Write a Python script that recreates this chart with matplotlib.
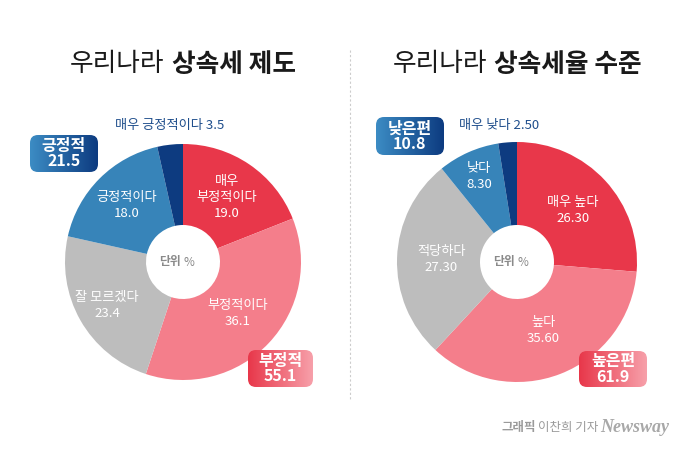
import numpy as np
import matplotlib
matplotlib.use('Agg')
import matplotlib.pyplot as plt
from matplotlib.patches import FancyBboxPatch

plt.rcParams['font.family'] = ['Noto Sans CJK KR', 'DejaVu Sans']

# 데이터
left_labels = ['매우\n부정적이다', '부정적이다', '잘 모르겠다', '긍정적이다', '매우 긍정적이다']
left_values = [19.0, 36.1, 23.4, 18.0, 3.5]
left_text = ['19.0', '36.1', '23.4', '18.0', '3.5']

right_labels = ['매우 높다', '높다', '적당하다', '낮다', '매우 낮다']
right_values = [26.30, 35.60, 27.30, 8.30, 2.50]
right_text = ['26.30', '35.60', '27.30', '8.30', '2.50']

left_groups = [('긍정적', '21.5'), ('부정적', '55.1')]
right_groups = [('낮은편', '10.8'), ('높은편', '61.9')]

colors = ['#e8374a', '#f47e8b', '#bdbdbd', '#3784b9', '#0d3b80']
H = 450

fig = plt.figure(figsize=(7, 4.5), dpi=100)
ax = fig.add_axes([0, 0, 1, 1])


def donut(cx, cy, r, values, labels, texts, ks):
    ax.pie(values, center=(cx, H - cy), radius=r, startangle=90,
           counterclock=False, colors=colors,
           wedgeprops=dict(width=r - 37, linewidth=0))
    cum = 0
    for i, v in enumerate(values):
        mid = (cum + v / 2) / sum(values)
        cum += v
        if i == len(values) - 1:
            continue
        th = 2 * np.pi * mid
        x = cx + r * ks[i] * np.sin(th)
        y = H - cy + r * ks[i] * np.cos(th)
        ax.text(x, y, labels[i] + '\n' + texts[i], ha='center', va='center',
                color='white', fontsize=9.5, linespacing=1.3)
    ax.text(cx - 2, H - cy, '단위', ha='right', va='center', color='#8a8a8a',
            fontsize=8.5, fontweight='bold')
    ax.text(cx, H - cy, '%', ha='left', va='center', color='#8a8a8a', fontsize=8.5)


def box(x0, y0, x1, y1, c1, c2, t1, t2):
    w, h = x1 - x0, y1 - y0
    patch = FancyBboxPatch((x0, H - y1), w, h,
                           boxstyle='round,pad=0,rounding_size=8',
                           facecolor='none', edgecolor='none')
    ax.add_patch(patch)
    a = matplotlib.colors.to_rgb(c1)
    b = matplotlib.colors.to_rgb(c2)
    t = np.linspace(0, 1, 128)[None, :, None]
    grad = (1 - t) * np.array(a) + t * np.array(b)
    im = ax.imshow(grad, extent=[x0, x1, H - y1, H - y0], aspect='auto',
                   interpolation='bilinear', zorder=3)
    im.set_clip_path(patch)
    xc = (x0 + x1) / 2
    ax.text(xc, H - (y0 + h * 0.5), t1 + '\n' + t2, ha='center', va='center',
            color='white', fontsize=11.5, fontweight='bold', linespacing=0.95,
            zorder=4)


donut(183, 262, 118, left_values, left_labels, left_text, [0.66, 0.64, 0.74, 0.68])
donut(517, 262, 120, right_values, right_labels, right_text, [0.63, 0.61, 0.63, 0.78])

ax.text(115, H - 126, left_labels[4] + ' ' + left_text[4], ha='left', va='center',
        color='#1f4e8c', fontsize=9.5)
ax.text(459, H - 126, right_labels[4] + ' ' + right_text[4], ha='left', va='center',
        color='#1f4e8c', fontsize=9.5)

box(30, 135, 98, 172, '#3c8cc4', '#0d3b80', *left_groups[0])
box(248, 350, 313, 387, '#e8374a', '#f7a0aa', *left_groups[1])
box(376, 117, 444, 155, '#3c8cc4', '#0d3b80', *right_groups[0])
box(579, 351, 647, 387, '#e8374a', '#f7a0aa', *right_groups[1])

# 제목
ax.text(164, H - 64, '우리나라', ha='right', va='center', fontsize=18.5, color='#1a1a1a')
ax.text(172, H - 64, '상속세 제도', ha='left', va='center', fontsize=18.5,
        fontweight='bold', color='#1a1a1a')
ax.text(487, H - 64, '우리나라', ha='right', va='center', fontsize=18.5, color='#1a1a1a')
ax.text(494, H - 64, '상속세율 수준', ha='left', va='center', fontsize=18.5,
        fontweight='bold', color='#1a1a1a')

# 구분선
ax.plot([350, 350], [H - 50, H - 400], color='#cccccc', linestyle=(0, (2, 2)), linewidth=0.8)

# 출처
ax.text(536, H - 428, '그래픽', ha='right', va='center', fontsize=9,
        fontweight='bold', color='#9a9a9a')
ax.text(538, H - 428, '이찬희 기자', ha='left', va='center', fontsize=9, color='#9a9a9a')
ax.text(600, H - 428, 'Newsway', ha='left', va='center', fontsize=13,
        family='Liberation Serif', style='italic', fontweight='bold', color='#a8a8a8')

ax.set_xlim(0, 700)
ax.set_ylim(0, H)
ax.set_aspect('equal')
ax.axis('off')

fig.savefig('out.png', dpi=100, facecolor='white')
